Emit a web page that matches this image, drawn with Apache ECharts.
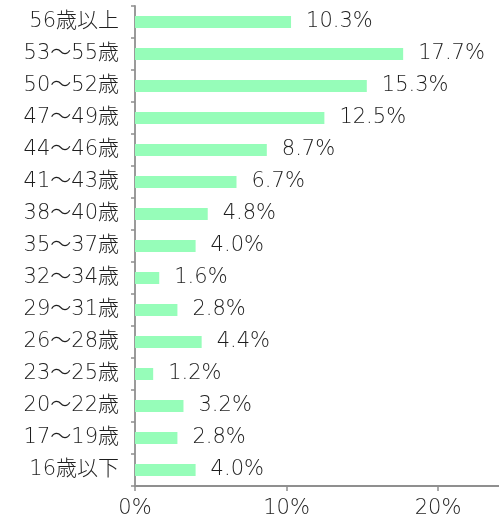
<!DOCTYPE html>
<html>
<head>
<meta charset="utf-8">
<script src="https://cdn.jsdelivr.net/npm/echarts@6/dist/echarts.min.js"></script>
<style>
  html, body { margin: 0; padding: 0; background: #ffffff; }
  #chart { width: 499px; height: 519px; }
</style>
</head>
<body>
<div id="chart"></div>
<script>
// Age groups, listed from top to bottom
const categories = [
  '56歳以上', '53〜55歳', '50〜52歳', '47〜49歳', '44〜46歳',
  '41〜43歳', '38〜40歳', '35〜37歳', '32〜34歳', '29〜31歳',
  '26〜28歳', '23〜25歳', '20〜22歳', '17〜19歳', '16歳以下'
];
// Share of respondents (%)
const shares = [10.3, 17.7, 15.3, 12.5, 8.7, 6.7, 4.8, 4.0, 1.6, 2.8, 4.4, 1.2, 3.2, 2.8, 4.0];
// Value axis ticks (%)
const axisMin = 0;
const axisMax = 25;
const axisStep = 10;

const FONT = '"DejaVu Sans Light", "Noto Sans CJK JP Light", "DejaVu Sans", "Noto Sans CJK JP", sans-serif';
const WEIGHT = 300;
const TEXT = '#1e1e1e';
const AXIS = '#8f8f8f';

const chart = echarts.init(document.getElementById('chart'), null, { renderer: 'canvas' });
chart.setOption({
  animation: false,
  backgroundColor: '#ffffff',
  grid: {
    left: 135, top: 6, bottom: 33, width: 378.75,
    containLabel: false,
    outerBoundsMode: 'none'
  },
  xAxis: {
    type: 'value',
    min: axisMin,
    max: axisMax,
    interval: axisStep,
    axisLine: { show: true, lineStyle: { color: AXIS, width: 1.8 } },
    axisTick: { show: true, length: 5, lineStyle: { color: AXIS, width: 1.5 } },
    splitLine: { show: false },
    axisLabel: {
      showMaxLabel: false,
      margin: 12,
      color: TEXT,
      fontFamily: FONT,
      fontWeight: WEIGHT,
      fontSize: 21,
      formatter: v => v + '%'
    }
  },
  yAxis: {
    type: 'category',
    data: categories,
    inverse: true,
    axisLine: { show: true, lineStyle: { color: AXIS, width: 1.8 } },
    axisTick: { show: true, length: 4, lineStyle: { color: AXIS, width: 1.5 } },
    axisLabel: {
      margin: 16,
      color: TEXT,
      fontFamily: FONT,
      fontWeight: WEIGHT,
      fontSize: 21
    }
  },
  series: [{
    type: 'bar',
    data: shares,
    barWidth: 12,
    itemStyle: { color: '#96fdb9' },
    label: {
      show: true,
      position: 'right',
      distance: 15,
      color: TEXT,
      fontFamily: FONT,
      fontWeight: WEIGHT,
      fontSize: 21,
      formatter: p => p.value.toFixed(1) + '%'
    }
  }]
});
</script>
</body>
</html>
